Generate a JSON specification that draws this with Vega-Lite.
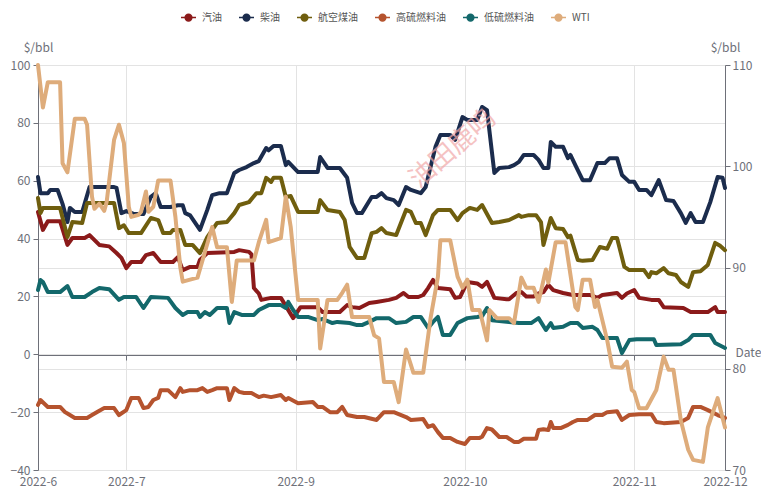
{
  "$schema": "https://vega.github.io/schema/vega-lite/v6.json",
  "width": 687,
  "height": 405,
  "autosize": {"type": "none"},
  "padding": {"left": 38, "top": 65, "right": 36, "bottom": 19},
  "background": "white",
  "config": {
    "view": {"stroke": null},
    "font": "Noto Sans CJK SC",
    "axis": {"labelFontSize": 12, "labelColor": "#6E7079", "titleFontSize": 12, "titleColor": "#6E7079", "titleFontWeight": "normal", "gridColor": "#E3E3E3", "domainColor": "#6E7079", "tickColor": "#6E7079"}
  },
  "datasets": {
    "prices": [
      {"d":0,"s":"汽油","v":49.2},{"d":2,"s":"汽油","v":43},{"d":4,"s":"汽油","v":46},{"d":9,"s":"汽油","v":46},{"d":12,"s":"汽油","v":37.8},{"d":14,"s":"汽油","v":40.2},{"d":19,"s":"汽油","v":40.2},{"d":21,"s":"汽油","v":41.2},{"d":25,"s":"汽油","v":37.8},{"d":29,"s":"汽油","v":37.3},{"d":32,"s":"汽油","v":35},{"d":34,"s":"汽油","v":33.3},{"d":36,"s":"汽油","v":29.8},{"d":38,"s":"汽油","v":31.9},{"d":42,"s":"汽油","v":31.9},{"d":44,"s":"汽油","v":34.3},{"d":47,"s":"汽油","v":35},{"d":50,"s":"汽油","v":31.9},{"d":55,"s":"汽油","v":31.9},{"d":57,"s":"汽油","v":33.6},{"d":59,"s":"汽油","v":29.1},{"d":62,"s":"汽油","v":30.2},{"d":65,"s":"汽油","v":30.2},{"d":66,"s":"汽油","v":32.6},{"d":69,"s":"汽油","v":35},{"d":80,"s":"汽油","v":35.4},{"d":82,"s":"汽油","v":36},{"d":86,"s":"汽油","v":35.4},{"d":87,"s":"汽油","v":34.5},{"d":88,"s":"汽油","v":22.9},{"d":90,"s":"汽油","v":21},{"d":91,"s":"汽油","v":18.8},{"d":95,"s":"汽油","v":19.5},{"d":99,"s":"汽油","v":19.5},{"d":104,"s":"汽油","v":12.5},{"d":107,"s":"汽油","v":16.3},{"d":114,"s":"汽油","v":16.3},{"d":116,"s":"汽油","v":14.6},{"d":123,"s":"汽油","v":14.6},{"d":126,"s":"汽油","v":17},{"d":128,"s":"汽油","v":16.3},{"d":131,"s":"汽油","v":16},{"d":135,"s":"汽油","v":17.7},{"d":138,"s":"汽油","v":18.1},{"d":143,"s":"汽油","v":18.8},{"d":146,"s":"汽油","v":19.5},{"d":149,"s":"汽油","v":21.2},{"d":151,"s":"汽油","v":19.8},{"d":155,"s":"汽油","v":19.8},{"d":157,"s":"汽油","v":20.5},{"d":159,"s":"汽油","v":22.9},{"d":161,"s":"汽油","v":25.7},{"d":163,"s":"汽油","v":22.9},{"d":168,"s":"汽油","v":22.5},{"d":170,"s":"汽油","v":19.5},{"d":172,"s":"汽油","v":19.8},{"d":175,"s":"汽油","v":25},{"d":179,"s":"汽油","v":24.5},{"d":181,"s":"汽油","v":23.3},{"d":183,"s":"汽油","v":25},{"d":186,"s":"汽油","v":19.5},{"d":191,"s":"汽油","v":19},{"d":192,"s":"汽油","v":19},{"d":195,"s":"汽油","v":21.2},{"d":197,"s":"汽油","v":21.5},{"d":199,"s":"汽油","v":20},{"d":202,"s":"汽油","v":20},{"d":204,"s":"汽油","v":21},{"d":206,"s":"汽油","v":21.5},{"d":208,"s":"汽油","v":24},{"d":210,"s":"汽油","v":22.2},{"d":214,"s":"汽油","v":21.2},{"d":218,"s":"汽油","v":20.5},{"d":225,"s":"汽油","v":20.5},{"d":228,"s":"汽油","v":19.5},{"d":230,"s":"汽油","v":20.5},{"d":236,"s":"汽油","v":21.2},{"d":238,"s":"汽油","v":19.5},{"d":240,"s":"汽油","v":21},{"d":243,"s":"汽油","v":22.2},{"d":245,"s":"汽油","v":19.5},{"d":250,"s":"汽油","v":18.8},{"d":253,"s":"汽油","v":18.8},{"d":255,"s":"汽油","v":16.3},{"d":263,"s":"汽油","v":16},{"d":266,"s":"汽油","v":14.6},{"d":273,"s":"汽油","v":14.6},{"d":276,"s":"汽油","v":16.3},{"d":277,"s":"汽油","v":14.6},{"d":280,"s":"汽油","v":14.6},

      {"d":0,"s":"柴油","v":61.3},{"d":1,"s":"柴油","v":55.7},{"d":4,"s":"柴油","v":55.7},{"d":5,"s":"柴油","v":56.8},{"d":8,"s":"柴油","v":56.8},{"d":10,"s":"柴油","v":52},{"d":12,"s":"柴油","v":45.7},{"d":13,"s":"柴油","v":50.6},{"d":15,"s":"柴油","v":49.2},{"d":18,"s":"柴油","v":49.2},{"d":21,"s":"柴油","v":57.8},{"d":31,"s":"柴油","v":57.8},{"d":32,"s":"柴油","v":57.5},{"d":34,"s":"柴油","v":48.8},{"d":36,"s":"柴油","v":49.5},{"d":39,"s":"柴油","v":48.5},{"d":43,"s":"柴油","v":48.5},{"d":46,"s":"柴油","v":54.4},{"d":48,"s":"柴油","v":55.7},{"d":50,"s":"柴油","v":50.9},{"d":54,"s":"柴油","v":50.9},{"d":57,"s":"柴油","v":51.5},{"d":59,"s":"柴油","v":51.5},{"d":60,"s":"柴油","v":48.8},{"d":62,"s":"柴油","v":48},{"d":66,"s":"柴油","v":43},{"d":69,"s":"柴油","v":49.9},{"d":71,"s":"柴油","v":55},{"d":74,"s":"柴油","v":55.7},{"d":77,"s":"柴油","v":55.7},{"d":80,"s":"柴油","v":62.7},{"d":82,"s":"柴油","v":63.7},{"d":85,"s":"柴油","v":64.7},{"d":88,"s":"柴油","v":66.1},{"d":90,"s":"柴油","v":66.8},{"d":93,"s":"柴油","v":71.3},{"d":94,"s":"柴油","v":70.5},{"d":96,"s":"柴油","v":72},{"d":99,"s":"柴油","v":72},{"d":101,"s":"柴油","v":65.4},{"d":102,"s":"柴油","v":66.5},{"d":106,"s":"柴油","v":63},{"d":114,"s":"柴油","v":63},{"d":115,"s":"柴油","v":68.2},{"d":118,"s":"柴油","v":64.4},{"d":123,"s":"柴油","v":64.4},{"d":126,"s":"柴油","v":61},{"d":128,"s":"柴油","v":52.3},{"d":130,"s":"柴油","v":48.8},{"d":132,"s":"柴油","v":48.8},{"d":136,"s":"柴油","v":54.4},{"d":138,"s":"柴油","v":54.4},{"d":140,"s":"柴油","v":55.7},{"d":142,"s":"柴油","v":54},{"d":145,"s":"柴油","v":53.3},{"d":147,"s":"柴油","v":51.6},{"d":150,"s":"柴油","v":57.8},{"d":152,"s":"柴油","v":56.8},{"d":156,"s":"柴油","v":55.7},{"d":158,"s":"柴油","v":57.8},{"d":162,"s":"柴油","v":71.7},{"d":164,"s":"柴油","v":75.8},{"d":168,"s":"柴油","v":75.8},{"d":170,"s":"柴油","v":74.1},{"d":173,"s":"柴油","v":82},{"d":175,"s":"柴油","v":81},{"d":179,"s":"柴油","v":81},{"d":181,"s":"柴油","v":85.5},{"d":183,"s":"柴油","v":84.4},{"d":186,"s":"柴油","v":62.7},{"d":188,"s":"柴油","v":64.4},{"d":192,"s":"柴油","v":64.7},{"d":194,"s":"柴油","v":65.4},{"d":196,"s":"柴油","v":66.5},{"d":198,"s":"柴油","v":68.9},{"d":202,"s":"柴油","v":68.9},{"d":204,"s":"柴油","v":67.2},{"d":206,"s":"柴油","v":64.4},{"d":208,"s":"柴油","v":64.4},{"d":209,"s":"柴油","v":73.4},{"d":211,"s":"柴油","v":71.7},{"d":214,"s":"柴油","v":71.7},{"d":216,"s":"柴油","v":67.8},{"d":217,"s":"柴油","v":68.9},{"d":219,"s":"柴油","v":65.4},{"d":222,"s":"柴油","v":60.2},{"d":225,"s":"柴油","v":60.2},{"d":228,"s":"柴油","v":66.1},{"d":231,"s":"柴油","v":66.1},{"d":233,"s":"柴油","v":67.8},{"d":236,"s":"柴油","v":67.8},{"d":238,"s":"柴油","v":62},{"d":241,"s":"柴油","v":59.6},{"d":243,"s":"柴油","v":59.6},{"d":245,"s":"柴油","v":56.8},{"d":248,"s":"柴油","v":56.8},{"d":250,"s":"柴油","v":55},{"d":253,"s":"柴油","v":60.2},{"d":256,"s":"柴油","v":53.3},{"d":259,"s":"柴油","v":53},{"d":262,"s":"柴油","v":48.8},{"d":264,"s":"柴油","v":45.4},{"d":266,"s":"柴油","v":48.8},{"d":268,"s":"柴油","v":45.7},{"d":271,"s":"柴油","v":45.7},{"d":274,"s":"柴油","v":52.6},{"d":277,"s":"柴油","v":61.3},{"d":279,"s":"柴油","v":61},{"d":280,"s":"柴油","v":57.5},

      {"d":0,"s":"航空煤油","v":54},{"d":1,"s":"航空煤油","v":48.8},{"d":2,"s":"航空煤油","v":50.6},{"d":9,"s":"航空煤油","v":50.6},{"d":12,"s":"航空煤油","v":40.5},{"d":14,"s":"航空煤油","v":45.7},{"d":18,"s":"航空煤油","v":45.4},{"d":20,"s":"航空煤油","v":52.3},{"d":31,"s":"航空煤油","v":52.3},{"d":33,"s":"航空煤油","v":43.6},{"d":35,"s":"航空煤油","v":44.6},{"d":37,"s":"航空煤油","v":41.9},{"d":42,"s":"航空煤油","v":41.9},{"d":46,"s":"航空煤油","v":47.1},{"d":49,"s":"航空煤油","v":46.4},{"d":51,"s":"航空煤油","v":41.9},{"d":54,"s":"航空煤油","v":41.9},{"d":55,"s":"航空煤油","v":43},{"d":58,"s":"航空煤油","v":43},{"d":60,"s":"航空煤油","v":37.8},{"d":63,"s":"航空煤油","v":37.8},{"d":66,"s":"航空煤油","v":35},{"d":69,"s":"航空煤油","v":40.5},{"d":73,"s":"航空煤油","v":45.4},{"d":77,"s":"航空煤油","v":45.7},{"d":80,"s":"航空煤油","v":48.8},{"d":82,"s":"航空煤油","v":51.6},{"d":86,"s":"航空煤油","v":52.6},{"d":89,"s":"航空煤油","v":55.7},{"d":91,"s":"航空煤油","v":55.7},{"d":93,"s":"航空煤油","v":61},{"d":95,"s":"航空煤油","v":59.6},{"d":96,"s":"航空煤油","v":61},{"d":99,"s":"航空煤油","v":61},{"d":101,"s":"航空煤油","v":54.4},{"d":103,"s":"航空煤油","v":54.7},{"d":106,"s":"航空煤油","v":49.2},{"d":114,"s":"航空煤油","v":49.2},{"d":115,"s":"航空煤油","v":53.3},{"d":118,"s":"航空煤油","v":49.9},{"d":123,"s":"航空煤油","v":49.2},{"d":125,"s":"航空煤油","v":46.4},{"d":127,"s":"航空煤油","v":37.1},{"d":130,"s":"航空煤油","v":33.3},{"d":133,"s":"航空煤油","v":33.3},{"d":136,"s":"航空煤油","v":41.9},{"d":138,"s":"航空煤油","v":42.3},{"d":140,"s":"航空煤油","v":43.6},{"d":142,"s":"航空煤油","v":41.9},{"d":146,"s":"航空煤油","v":41.2},{"d":150,"s":"航空煤油","v":49.9},{"d":152,"s":"航空煤油","v":49.2},{"d":154,"s":"航空煤油","v":45.4},{"d":156,"s":"航空煤油","v":45.4},{"d":158,"s":"航空煤油","v":41.2},{"d":161,"s":"航空煤油","v":48.1},{"d":163,"s":"航空煤油","v":49.9},{"d":168,"s":"航空煤油","v":49.9},{"d":171,"s":"航空煤油","v":46.4},{"d":173,"s":"航空煤油","v":48.8},{"d":176,"s":"航空煤油","v":50.6},{"d":179,"s":"航空煤油","v":49.9},{"d":181,"s":"航空煤油","v":51.6},{"d":185,"s":"航空煤油","v":45.4},{"d":188,"s":"航空煤油","v":45.7},{"d":192,"s":"航空煤油","v":46.4},{"d":196,"s":"航空煤油","v":48.1},{"d":197,"s":"航空煤油","v":47.5},{"d":200,"s":"航空煤油","v":48.1},{"d":203,"s":"航空煤油","v":48.1},{"d":205,"s":"航空煤油","v":45.7},{"d":206,"s":"航空煤油","v":37.8},{"d":209,"s":"航空煤油","v":47.1},{"d":211,"s":"航空煤油","v":43.6},{"d":214,"s":"航空煤油","v":43.3},{"d":216,"s":"航空煤油","v":40.5},{"d":217,"s":"航空煤油","v":41},{"d":220,"s":"航空煤油","v":32.6},{"d":222,"s":"航空煤油","v":32.3},{"d":226,"s":"航空煤油","v":32.6},{"d":229,"s":"航空煤油","v":37.1},{"d":232,"s":"航空煤油","v":36.5},{"d":234,"s":"航空煤油","v":40.2},{"d":236,"s":"航空煤油","v":40.2},{"d":239,"s":"航空煤油","v":30.2},{"d":241,"s":"航空煤油","v":29.1},{"d":247,"s":"航空煤油","v":29.1},{"d":249,"s":"航空煤油","v":26.7},{"d":250,"s":"航空煤油","v":28.4},{"d":252,"s":"航空煤油","v":28},{"d":255,"s":"航空煤油","v":29.8},{"d":257,"s":"航空煤油","v":28},{"d":260,"s":"航空煤油","v":27.4},{"d":262,"s":"航空煤油","v":25},{"d":265,"s":"航空煤油","v":23.3},{"d":267,"s":"航空煤油","v":28.4},{"d":270,"s":"航空煤油","v":28.7},{"d":273,"s":"航空煤油","v":30.9},{"d":276,"s":"航空煤油","v":38.5},{"d":278,"s":"航空煤油","v":37.5},{"d":280,"s":"航空煤油","v":36},

      {"d":0,"s":"高硫燃料油","v":-17.5},{"d":1,"s":"高硫燃料油","v":-15.8},{"d":4,"s":"高硫燃料油","v":-18.2},{"d":9,"s":"高硫燃料油","v":-18.2},{"d":11,"s":"高硫燃料油","v":-20},{"d":12,"s":"高硫燃料油","v":-20.5},{"d":15,"s":"高硫燃料油","v":-22},{"d":20,"s":"高硫燃料油","v":-22},{"d":22,"s":"高硫燃料油","v":-21},{"d":25,"s":"高硫燃料油","v":-19.5},{"d":27,"s":"高硫燃料油","v":-18.6},{"d":31,"s":"高硫燃料油","v":-18.6},{"d":33,"s":"高硫燃料油","v":-21},{"d":36,"s":"高硫燃料油","v":-19.3},{"d":38,"s":"高硫燃料油","v":-15.1},{"d":41,"s":"高硫燃料油","v":-15.1},{"d":43,"s":"高硫燃料油","v":-18.6},{"d":45,"s":"高硫燃料油","v":-18.2},{"d":47,"s":"高硫燃料油","v":-15.8},{"d":49,"s":"高硫燃料油","v":-15.1},{"d":50,"s":"高硫燃料油","v":-12.4},{"d":53,"s":"高硫燃料油","v":-12.4},{"d":56,"s":"高硫燃料油","v":-14.8},{"d":58,"s":"高硫燃料油","v":-11.7},{"d":59,"s":"高硫燃料油","v":-13},{"d":62,"s":"高硫燃料油","v":-12.4},{"d":65,"s":"高硫燃料油","v":-12.4},{"d":67,"s":"高硫燃料油","v":-11.7},{"d":69,"s":"高硫燃料油","v":-13},{"d":71,"s":"高硫燃料油","v":-12.4},{"d":73,"s":"高硫燃料油","v":-11.7},{"d":77,"s":"高硫燃料油","v":-11.7},{"d":78,"s":"高硫燃料油","v":-15.8},{"d":80,"s":"高硫燃料油","v":-11.7},{"d":82,"s":"高硫燃料油","v":-13},{"d":84,"s":"高硫燃料油","v":-13.4},{"d":87,"s":"高硫燃料油","v":-13.4},{"d":90,"s":"高硫燃料油","v":-14.8},{"d":92,"s":"高硫燃料油","v":-14.3},{"d":95,"s":"高硫燃料油","v":-14.8},{"d":99,"s":"高硫燃料油","v":-14.1},{"d":101,"s":"高硫燃料油","v":-15.8},{"d":102,"s":"高硫燃料油","v":-15.1},{"d":106,"s":"高硫燃料油","v":-16.9},{"d":112,"s":"高硫燃料油","v":-16.5},{"d":114,"s":"高硫燃料油","v":-18.2},{"d":116,"s":"高硫燃料油","v":-18.2},{"d":119,"s":"高硫燃料油","v":-20},{"d":122,"s":"高硫燃料油","v":-20},{"d":124,"s":"高硫燃料油","v":-18.2},{"d":126,"s":"高硫燃料油","v":-21},{"d":130,"s":"高硫燃料油","v":-21.7},{"d":133,"s":"高硫燃料油","v":-21.7},{"d":138,"s":"高硫燃料油","v":-22.7},{"d":141,"s":"高硫燃料油","v":-20},{"d":145,"s":"高硫燃料油","v":-20},{"d":148,"s":"高硫燃料油","v":-21},{"d":150,"s":"高硫燃料油","v":-21.7},{"d":152,"s":"高硫燃料油","v":-22.7},{"d":157,"s":"高硫燃料油","v":-22.4},{"d":159,"s":"高硫燃料油","v":-25.1},{"d":161,"s":"高硫燃料油","v":-24.5},{"d":163,"s":"高硫燃料油","v":-26.9},{"d":165,"s":"高硫燃料油","v":-28.9},{"d":168,"s":"高硫燃料油","v":-28.9},{"d":171,"s":"高硫燃料油","v":-30.3},{"d":174,"s":"高硫燃料油","v":-31},{"d":176,"s":"高硫燃料油","v":-28.9},{"d":180,"s":"高硫燃料油","v":-28.9},{"d":181,"s":"高硫燃料油","v":-28.5},{"d":183,"s":"高硫燃料油","v":-25.5},{"d":185,"s":"高硫燃料油","v":-26},{"d":188,"s":"高硫燃料油","v":-28.6},{"d":191,"s":"高硫燃料油","v":-28.6},{"d":194,"s":"高硫燃料油","v":-30.3},{"d":196,"s":"高硫燃料油","v":-30.3},{"d":198,"s":"高硫燃料油","v":-29.2},{"d":203,"s":"高硫燃料油","v":-29.2},{"d":204,"s":"高硫燃料油","v":-26.2},{"d":206,"s":"高硫燃料油","v":-25.9},{"d":208,"s":"高硫燃料油","v":-26.2},{"d":209,"s":"高硫燃料油","v":-23.4},{"d":210,"s":"高硫燃料油","v":-25.5},{"d":213,"s":"高硫燃料油","v":-25.5},{"d":216,"s":"高硫燃料油","v":-24.4},{"d":218,"s":"高硫燃料油","v":-23.4},{"d":220,"s":"高硫燃料油","v":-22.7},{"d":224,"s":"高硫燃料油","v":-22.7},{"d":227,"s":"高硫燃料油","v":-21},{"d":230,"s":"高硫燃料油","v":-21},{"d":232,"s":"高硫燃料油","v":-20},{"d":236,"s":"高硫燃料油","v":-19.7},{"d":238,"s":"高硫燃料油","v":-22.7},{"d":241,"s":"高硫燃料油","v":-21},{"d":245,"s":"高硫燃料油","v":-20.7},{"d":250,"s":"高硫燃料油","v":-20.7},{"d":252,"s":"高硫燃料油","v":-23.4},{"d":255,"s":"高硫燃料油","v":-23.8},{"d":262,"s":"高硫燃料油","v":-23.4},{"d":265,"s":"高硫燃料油","v":-22},{"d":267,"s":"高硫燃料油","v":-18.2},{"d":270,"s":"高硫燃料油","v":-18.2},{"d":273,"s":"高硫燃料油","v":-19.3},{"d":277,"s":"高硫燃料油","v":-21},{"d":280,"s":"高硫燃料油","v":-22},

      {"d":0,"s":"低硫燃料油","v":22.2},{"d":1,"s":"低硫燃料油","v":25.7},{"d":2,"s":"低硫燃料油","v":25},{"d":4,"s":"低硫燃料油","v":21.5},{"d":9,"s":"低硫燃料油","v":21.5},{"d":12,"s":"低硫燃料油","v":23.6},{"d":14,"s":"低硫燃料油","v":19.8},{"d":19,"s":"低硫燃料油","v":19.8},{"d":22,"s":"低硫燃料油","v":21.5},{"d":25,"s":"低硫燃料油","v":22.9},{"d":29,"s":"低硫燃料油","v":22.5},{"d":33,"s":"低硫燃料油","v":18.8},{"d":35,"s":"低硫燃料油","v":19.8},{"d":40,"s":"低硫燃料油","v":19.8},{"d":43,"s":"低硫燃料油","v":16},{"d":46,"s":"低硫燃料油","v":19.8},{"d":53,"s":"低硫燃料油","v":19.5},{"d":56,"s":"低硫燃料油","v":16},{"d":59,"s":"低硫燃料油","v":13.6},{"d":61,"s":"低硫燃料油","v":14.6},{"d":65,"s":"低硫燃料油","v":14.6},{"d":66,"s":"低硫燃料油","v":12.9},{"d":68,"s":"低硫燃料油","v":14.6},{"d":70,"s":"低硫燃料油","v":13.6},{"d":73,"s":"低硫燃料油","v":16},{"d":77,"s":"低硫燃料油","v":16},{"d":78,"s":"低硫燃料油","v":10.8},{"d":80,"s":"低硫燃料油","v":14.6},{"d":83,"s":"低硫燃料油","v":13.6},{"d":88,"s":"低硫燃料油","v":13.6},{"d":90,"s":"低硫燃料油","v":15.3},{"d":94,"s":"低硫燃料油","v":17},{"d":99,"s":"低硫燃料油","v":17},{"d":101,"s":"低硫燃料油","v":16},{"d":102,"s":"低硫燃料油","v":18.1},{"d":104,"s":"低硫燃料油","v":15.3},{"d":106,"s":"低硫燃料油","v":12.9},{"d":110,"s":"低硫燃料油","v":12.9},{"d":114,"s":"低硫燃料油","v":11.8},{"d":116,"s":"低硫燃料油","v":12.2},{"d":120,"s":"低硫燃料油","v":10.8},{"d":122,"s":"低硫燃料油","v":11.2},{"d":127,"s":"低硫燃料油","v":10.8},{"d":130,"s":"低硫燃料油","v":10.1},{"d":132,"s":"低硫燃料油","v":10.1},{"d":135,"s":"低硫燃料油","v":11.2},{"d":138,"s":"低硫燃料油","v":12.5},{"d":143,"s":"低硫燃料油","v":12.5},{"d":146,"s":"低硫燃料油","v":10.8},{"d":150,"s":"低硫燃料油","v":11.2},{"d":153,"s":"低硫燃料油","v":12.9},{"d":156,"s":"低硫燃料油","v":12.9},{"d":159,"s":"低硫燃料油","v":9.1},{"d":161,"s":"低硫燃料油","v":11.2},{"d":163,"s":"低硫燃料油","v":12.9},{"d":165,"s":"低硫燃料油","v":6.7},{"d":168,"s":"低硫燃料油","v":6.7},{"d":171,"s":"低硫燃料油","v":10.8},{"d":175,"s":"低硫燃料油","v":12.5},{"d":179,"s":"低硫燃料油","v":12.9},{"d":181,"s":"低硫燃料油","v":13.2},{"d":183,"s":"低硫燃料油","v":16},{"d":185,"s":"低硫燃料油","v":11.8},{"d":192,"s":"低硫燃料油","v":11.2},{"d":196,"s":"低硫燃料油","v":10.8},{"d":201,"s":"低硫燃料油","v":10.8},{"d":204,"s":"低硫燃料油","v":12.5},{"d":207,"s":"低硫燃料油","v":8.4},{"d":209,"s":"低硫燃料油","v":10.8},{"d":210,"s":"低硫燃料油","v":9.1},{"d":214,"s":"低硫燃料油","v":9.5},{"d":217,"s":"低硫燃料油","v":10.8},{"d":220,"s":"低硫燃料油","v":10.8},{"d":222,"s":"低硫燃料油","v":9.1},{"d":226,"s":"低硫燃料油","v":9.5},{"d":228,"s":"低硫燃料油","v":8.4},{"d":230,"s":"低硫燃料油","v":5.6},{"d":236,"s":"低硫燃料油","v":5.6},{"d":238,"s":"低硫燃料油","v":0.4},{"d":241,"s":"低硫燃料油","v":4.9},{"d":244,"s":"低硫燃料油","v":5.2},{"d":251,"s":"低硫燃料油","v":5.2},{"d":252,"s":"低硫燃料油","v":3.2},{"d":262,"s":"低硫燃料油","v":3.5},{"d":265,"s":"低硫燃料油","v":4.9},{"d":267,"s":"低硫燃料油","v":6.7},{"d":274,"s":"低硫燃料油","v":6.7},{"d":276,"s":"低硫燃料油","v":3.9},{"d":280,"s":"低硫燃料油","v":2.2},

      {"d":0,"s":"WTI","v":110},{"d":2,"s":"WTI","v":105.8},{"d":4,"s":"WTI","v":108.3},{"d":9,"s":"WTI","v":108.3},{"d":10,"s":"WTI","v":100.3},{"d":12,"s":"WTI","v":99.4},{"d":15,"s":"WTI","v":104.7},{"d":19,"s":"WTI","v":104.7},{"d":20,"s":"WTI","v":104.1},{"d":22,"s":"WTI","v":97},{"d":23,"s":"WTI","v":95.8},{"d":25,"s":"WTI","v":96.3},{"d":27,"s":"WTI","v":95.6},{"d":28,"s":"WTI","v":96.5},{"d":31,"s":"WTI","v":102.6},{"d":33,"s":"WTI","v":104.1},{"d":35,"s":"WTI","v":102.3},{"d":37,"s":"WTI","v":96},{"d":38,"s":"WTI","v":95},{"d":41,"s":"WTI","v":95.2},{"d":42,"s":"WTI","v":95.5},{"d":44,"s":"WTI","v":97.5},{"d":45,"s":"WTI","v":95.5},{"d":47,"s":"WTI","v":96},{"d":49,"s":"WTI","v":98.6},{"d":54,"s":"WTI","v":98.6},{"d":56,"s":"WTI","v":95},{"d":58,"s":"WTI","v":90},{"d":59,"s":"WTI","v":88.6},{"d":65,"s":"WTI","v":89},{"d":68,"s":"WTI","v":91.5},{"d":71,"s":"WTI","v":94},{"d":73,"s":"WTI","v":92},{"d":77,"s":"WTI","v":92},{"d":79,"s":"WTI","v":86.6},{"d":81,"s":"WTI","v":90.7},{"d":88,"s":"WTI","v":90.7},{"d":90,"s":"WTI","v":92.5},{"d":93,"s":"WTI","v":94.7},{"d":94,"s":"WTI","v":92.5},{"d":99,"s":"WTI","v":92.9},{"d":101,"s":"WTI","v":97},{"d":103,"s":"WTI","v":94},{"d":106,"s":"WTI","v":86.8},{"d":114,"s":"WTI","v":86.8},{"d":115,"s":"WTI","v":82},{"d":118,"s":"WTI","v":86.8},{"d":122,"s":"WTI","v":86.8},{"d":124,"s":"WTI","v":87.5},{"d":126,"s":"WTI","v":88.3},{"d":128,"s":"WTI","v":85.1},{"d":135,"s":"WTI","v":85.1},{"d":137,"s":"WTI","v":83.3},{"d":139,"s":"WTI","v":83},{"d":141,"s":"WTI","v":78.7},{"d":145,"s":"WTI","v":78.7},{"d":147,"s":"WTI","v":76.7},{"d":150,"s":"WTI","v":81.9},{"d":153,"s":"WTI","v":79.6},{"d":157,"s":"WTI","v":79.6},{"d":160,"s":"WTI","v":85},{"d":163,"s":"WTI","v":89.1},{"d":164,"s":"WTI","v":92.7},{"d":168,"s":"WTI","v":92.7},{"d":171,"s":"WTI","v":89.1},{"d":173,"s":"WTI","v":88},{"d":175,"s":"WTI","v":88.8},{"d":177,"s":"WTI","v":85.8},{"d":180,"s":"WTI","v":85.8},{"d":183,"s":"WTI","v":82.8},{"d":184,"s":"WTI","v":85.8},{"d":187,"s":"WTI","v":85},{"d":192,"s":"WTI","v":85},{"d":194,"s":"WTI","v":84.5},{"d":197,"s":"WTI","v":89},{"d":199,"s":"WTI","v":88},{"d":202,"s":"WTI","v":88},{"d":204,"s":"WTI","v":86.6},{"d":207,"s":"WTI","v":89.8},{"d":208,"s":"WTI","v":88.5},{"d":211,"s":"WTI","v":92.5},{"d":215,"s":"WTI","v":92.5},{"d":219,"s":"WTI","v":86.1},{"d":220,"s":"WTI","v":85.8},{"d":222,"s":"WTI","v":88.8},{"d":225,"s":"WTI","v":88.8},{"d":227,"s":"WTI","v":86.1},{"d":228,"s":"WTI","v":86.8},{"d":232,"s":"WTI","v":82.8},{"d":234,"s":"WTI","v":80.2},{"d":238,"s":"WTI","v":80.1},{"d":240,"s":"WTI","v":80.7},{"d":242,"s":"WTI","v":77.9},{"d":243,"s":"WTI","v":77.7},{"d":245,"s":"WTI","v":76.1},{"d":248,"s":"WTI","v":76.1},{"d":252,"s":"WTI","v":77.9},{"d":255,"s":"WTI","v":81.2},{"d":257,"s":"WTI","v":79.9},{"d":259,"s":"WTI","v":79.9},{"d":262,"s":"WTI","v":74.9},{"d":265,"s":"WTI","v":72},{"d":267,"s":"WTI","v":71},{"d":271,"s":"WTI","v":70.8},{"d":273,"s":"WTI","v":74.2},{"d":277,"s":"WTI","v":77.1},{"d":280,"s":"WTI","v":74.2}
    ],
    "mark": [{"label": "油田鹿鸣"}]
  },
  "data": {"name": "prices"},
  "layer": [
    {
      "layer": [
        {
          "transform": [{"filter": "datum.s !== 'WTI'"}],
          "mark": {"type": "line", "strokeWidth": 4, "strokeJoin": "round", "strokeCap": "round"},
          "encoding": {
            "x": {
              "field": "d", "type": "quantitative",
              "scale": {"domain": [0, 280], "nice": false, "zero": false},
              "axis": {"orient": "bottom", "values": [0, 36, 105, 174, 243, 280], "labelExpr": "datum.value == 0 ? '2022-6' : datum.value == 36 ? '2022-7' : datum.value == 105 ? '2022-9' : datum.value == 174 ? '2022-10' : datum.value == 243 ? '2022-11' : '2022-12'", "domain": false, "ticks": false, "grid": true, "title": null, "labelPadding": 6, "labelFlush": false, "labelOverlap": false}
            },
            "y": {
              "field": "v", "type": "quantitative",
              "scale": {"domain": [-40, 100], "nice": false, "zero": false},
              "axis": {"orient": "left", "values": [-40, -20, 0, 20, 40, 60, 80, 100], "title": "$/bbl", "titleAngle": 0, "titleX": 0, "titleY": -14, "titleAlign": "center", "titleBaseline": "alphabetic", "tickSize": 5, "labelPadding": 3, "grid": true, "domain": true, "ticks": true}
            },
            "color": {
              "field": "s", "type": "nominal",
              "scale": {"domain": ["汽油", "柴油", "航空煤油", "高硫燃料油", "低硫燃料油", "WTI"], "range": ["#8B1A1A", "#1B2C4D", "#6F5E0E", "#B5532E", "#13686B", "#DEAC7B"]},
              "legend": {"orient": "none", "legendX": 142, "legendY": -56, "direction": "horizontal", "columns": 6, "title": null, "symbolType": "M-1,0L1,0M-0.45,0A0.45,0.45,0,1,0,0.45,0A0.45,0.45,0,1,0,-0.45,0Z", "symbolSize": 225, "symbolStrokeWidth": 1.5, "labelFontSize": 10, "labelColor": "#555555", "labelOffset": 5, "columnPadding": 14, "encode": {"symbols": {"update": {"fill": {"scale": "color", "field": "value"}}}}}
            }
          }
        },
        {
          "data": {"name": "mark"},
          "mark": {"type": "text", "angle": 319, "fontSize": 26, "color": "#F2A9A9", "opacity": 0.7, "align": "center", "baseline": "middle"},
          "encoding": {
            "x": {"datum": 169, "type": "quantitative"},
            "y": {"datum": 71, "type": "quantitative"},
            "text": {"field": "label"}
          }
        }
      ]
    },
    {
      "transform": [{"filter": "datum.s === 'WTI'"}],
      "mark": {"type": "line", "strokeWidth": 4, "strokeJoin": "round", "strokeCap": "round"},
      "encoding": {
        "x": {
          "field": "d", "type": "quantitative",
          "axis": {"orient": "bottom", "offset": -115, "values": [0, 36, 105, 174, 243, 280], "labels": false, "grid": false, "domain": true, "ticks": true, "tickSize": 5, "title": "Date", "titleX": 697, "titleY": -3, "titleAlign": "left", "titleBaseline": "middle", "titleAngle": 0}
        },
        "y": {
          "field": "v", "type": "quantitative",
          "scale": {"domain": [70, 110], "nice": false, "zero": false},
          "axis": {"orient": "right", "values": [70, 80, 90, 100, 110], "title": "$/bbl", "titleAngle": 0, "titleX": 0, "titleY": -14, "titleAlign": "center", "titleBaseline": "alphabetic", "tickSize": 5, "labelPadding": 2, "grid": true, "domain": true, "ticks": true}
        },
        "color": {"field": "s", "type": "nominal"}
      }
    }
  ],
  "resolve": {"scale": {"y": "independent"}, "axis": {"x": "independent"}}
}
